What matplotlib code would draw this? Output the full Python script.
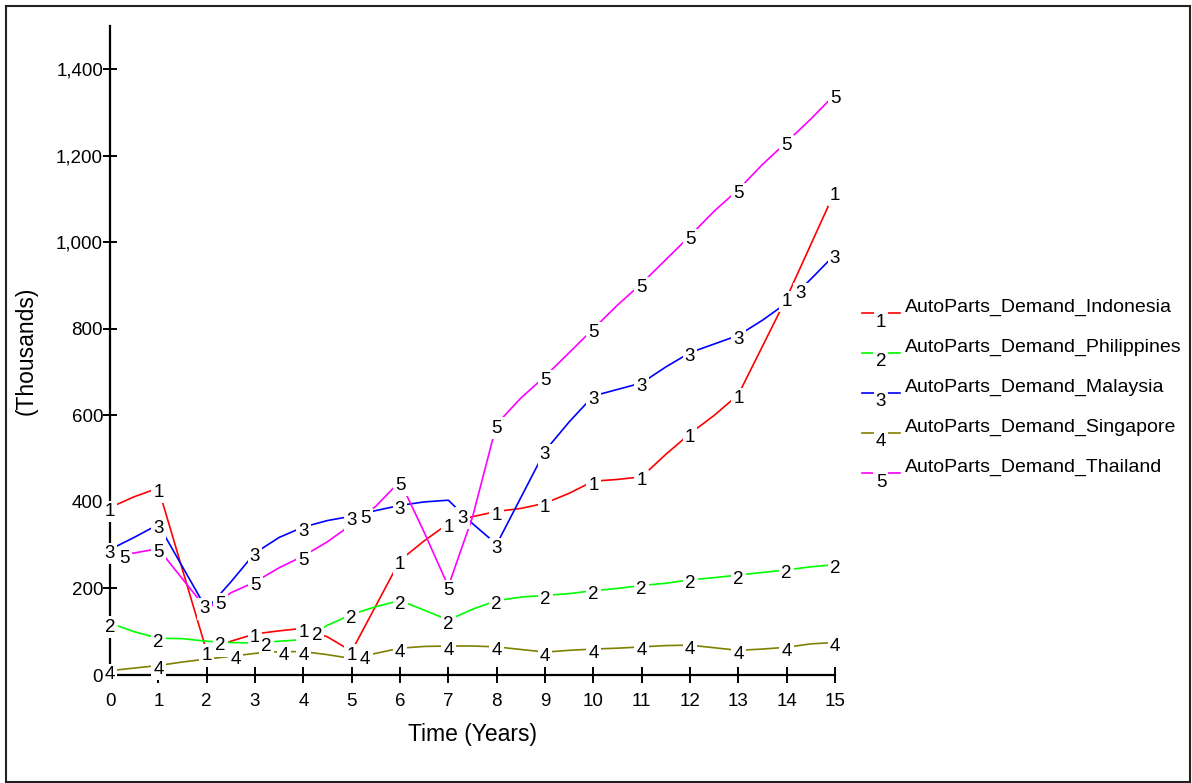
import matplotlib
matplotlib.use("Agg")
import matplotlib.pyplot as plt
from matplotlib.lines import Line2D
from matplotlib.patches import Rectangle
import numpy as np

plt.rcParams['font.family'] = ['Liberation Sans', 'DejaVu Sans']

# Half-year time grid (years)
years = np.arange(0, 15.5, 0.5)

# Demand values (thousands)
indonesia = [387, 412, 432, 243, 55, 78, 95, 102, 108, 88, 55, 160, 265, 310, 350, 366,
             378, 385, 397, 420, 448, 452, 458, 510, 558, 600, 648, 760, 872, 995, 1118]
philippines = [120, 100, 85, 84, 78, 75, 74, 78, 82, 115, 140, 158, 172, 150, 127, 152,
               172, 180, 184, 188, 195, 200, 207, 212, 220, 225, 231, 237, 243, 250, 255]
malaysia = [290, 318, 348, 250, 152, 215, 282, 318, 342, 357, 367, 380, 392, 400, 404, 350,
            302, 410, 518, 585, 645, 660, 675, 712, 745, 765, 785, 820, 860, 915, 972]
singapore = [10, 16, 22, 30, 37, 43, 50, 54, 54, 47, 38, 50, 62, 66, 67, 67,
             65, 59, 53, 57, 60, 62, 65, 68, 69, 63, 57, 60, 64, 72, 75]
thailand = [275, 282, 292, 222, 152, 190, 215, 248, 275, 308, 348, 390, 448, 330, 205, 365,
            580, 640, 690, 745, 800, 855, 905, 960, 1015, 1072, 1122, 1180, 1232, 1285, 1342]

names = ["AutoParts_Demand_Indonesia", "AutoParts_Demand_Philippines",
         "AutoParts_Demand_Malaysia", "AutoParts_Demand_Singapore",
         "AutoParts_Demand_Thailand"]
series = [indonesia, philippines, malaysia, singapore, thailand]
colors = ["#ff0000", "#00ff00", "#0000ff", "#808000", "#ff00ff"]

# where the number tags sit along each line (years)
tag_times = [
    [0, 1, 2, 3, 4, 5, 6, 7, 8, 9, 10, 11, 12, 13, 14, 15],
    [0, 1, 2.28, 3.24, 4.28, 5, 6, 7, 8, 9, 10, 11, 12, 13, 14, 15],
    [0, 1, 1.95, 3, 4, 5, 6, 7.3, 8, 9, 10, 11, 12, 13, 14.28, 15],
    [0, 1, 2.6, 3.6, 4, 5.28, 6, 7, 8, 9, 10, 11, 12, 13, 14, 15],
    [0.3, 1, 2.28, 3, 4, 5.28, 6, 7, 8, 9, 10, 11, 12, 13, 14, 15],
]

W, H = 1192, 783
fig = plt.figure(figsize=(W / 100, H / 100), dpi=100)
ax = fig.add_axes([110 / W, 1 - 675 / H, 725 / W, 649 / H])

for vals, col in zip(series, colors):
    ax.plot(years, vals, color=col, lw=1.2, zorder=2)

for i, (vals, tt) in enumerate(zip(series, tag_times)):
    for t in tt:
        yv = np.interp(t, years, vals)
        ax.annotate(str(i + 1), (t, yv), xytext=(0, -4), textcoords='offset pixels',
                    ha='center', va='center', fontsize=13.5, color='black', zorder=4,
                    annotation_clip=False,
                    bbox=dict(boxstyle='square,pad=0.12', fc='white', ec='none'))

ax.set_xlim(0, 15)
ax.set_ylim(0, 1500)
ax.set_xticks(range(0, 16))
ax.set_yticks(range(0, 1401, 200))
ax.set_yticklabels([f"{v:,}" for v in range(0, 1401, 200)])
for s in ['top', 'right']:
    ax.spines[s].set_visible(False)
for s in ['left', 'bottom']:
    ax.spines[s].set_linewidth(1.6)
ax.tick_params(axis='x', direction='inout', length=12, width=1.4, labelsize=13.5, pad=7)
ax.tick_params(axis='y', direction='inout', length=10, width=1.4, labelsize=13.5, pad=0)
ax.set_xlabel("Time (Years)", fontsize=16.5, labelpad=9)
ax.set_ylabel("(Thousands)", fontsize=16.5, labelpad=13)

# legend drawn by hand to mimic the tagged line samples
for i, (name, col) in enumerate(zip(names, colors)):
    py = 313 + 40 * i
    fig.add_artist(Line2D([862 / W, 900 / W], [1 - py / H] * 2, color=col, lw=1.2))
    fig.text(881 / W, 1 - (py + 9) / H, str(i + 1), fontsize=13.5, ha='center', va='center',
             bbox=dict(boxstyle='square,pad=0.12', fc='white', ec='none'))
    fig.text(905 / W, 1 - (py - 6) / H, name, fontsize=14, ha='left', va='center')

fig.add_artist(Rectangle((6 / W, 1 - 782 / H), 1184 / W, 776 / H, transform=fig.transFigure,
                         fill=False, ec='#222222', lw=1.5))

fig.savefig("out.png", dpi=100)
